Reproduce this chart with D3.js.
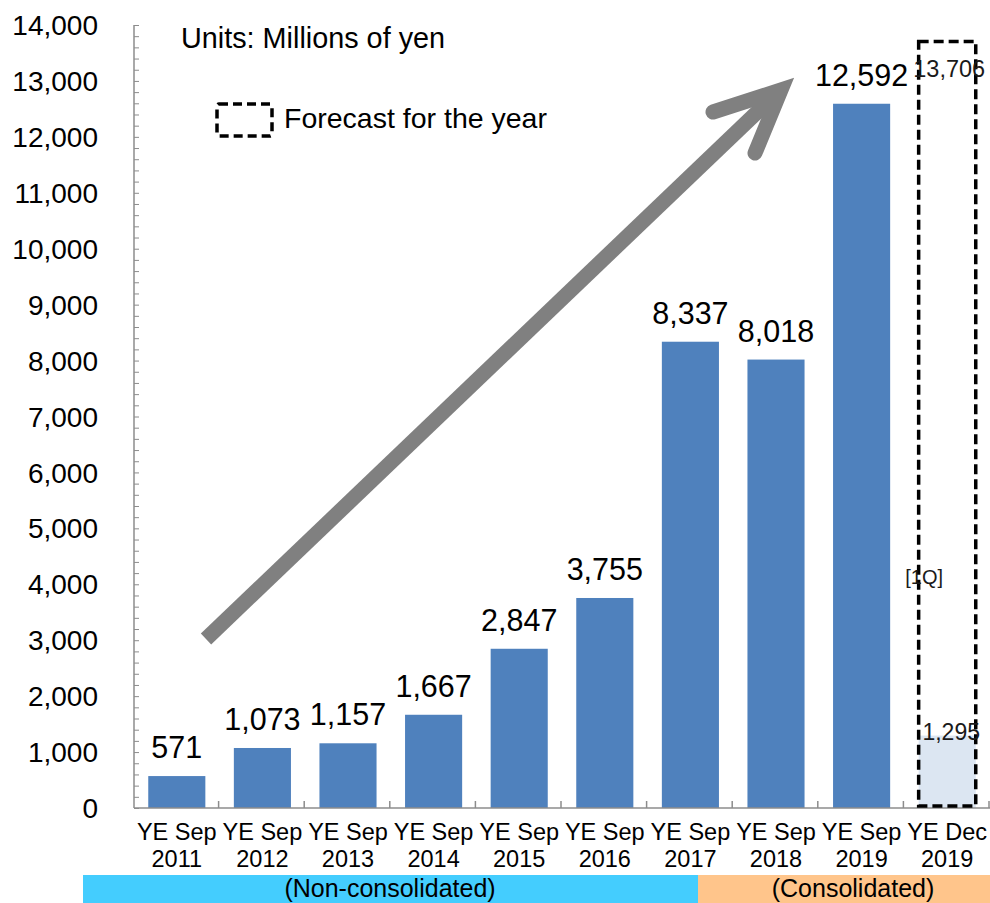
<!DOCTYPE html>
<html>
<head>
<meta charset="utf-8">
<script src="https://cdn.jsdelivr.net/npm/d3@7"></script>
<style>
  html, body { margin: 0; padding: 0; background: #fff; }
  svg { display: block; font-family: "Liberation Sans", Arial, Helvetica, sans-serif; }
</style>
</head>
<body>
<svg id="chart" width="990" height="903"></svg>
<script>
// Net sales by fiscal period (millions of yen)
const periods = ["YE Sep", "YE Sep", "YE Sep", "YE Sep", "YE Sep", "YE Sep", "YE Sep", "YE Sep", "YE Sep", "YE Dec"];
const years = ["2011", "2012", "2013", "2014", "2015", "2016", "2017", "2018", "2019", "2019"];
const sales = [571, 1073, 1157, 1667, 2847, 3755, 8337, 8018, 12592, null];
const forecastValue = 13706;   // full-year forecast for the last period
const firstQuarterValue = 1295; // first-quarter result for the last period
const yTicks = [0, 1000, 2000, 3000, 4000, 5000, 6000, 7000, 8000, 9000, 10000, 11000, 12000, 13000, 14000];

const svg = d3.select("#chart");
const plotLeft = 134, plotRight = 990, plotTop = 25, plotBottom = 808;

const idx = d3.range(periods.length);
const x = d3.scaleBand().domain(idx).range([plotLeft, plotRight]).paddingInner(0.333).paddingOuter(0.1665);
const y = d3.scaleLinear().domain([0, 14000]).range([plotBottom, plotTop]);
const step = x.step();

// Bars for actual results
svg.append("g").selectAll("rect")
  .data(idx.filter(i => sales[i] != null))
  .join("rect")
  .attr("x", i => x(i))
  .attr("width", x.bandwidth())
  .attr("y", i => y(sales[i]))
  .attr("height", i => y(0) - y(sales[i]))
  .attr("fill", "#4f81bd");

// Value labels
svg.append("g").selectAll("text")
  .data(idx.filter(i => sales[i] != null))
  .join("text")
  .attr("x", i => x(i) + x.bandwidth() / 2)
  .attr("y", i => y(sales[i]) - 18)
  .attr("text-anchor", "middle")
  .attr("font-size", 30.5)
  .attr("fill", "#000")
  .text(i => d3.format(",")(sales[i]));

// Last period: first-quarter bar inside dashed forecast outline
const last = periods.length - 1;
svg.append("rect")
  .attr("x", x(last))
  .attr("width", x.bandwidth())
  .attr("y", y(firstQuarterValue))
  .attr("height", y(0) - y(firstQuarterValue))
  .attr("fill", "#dce6f2");

// Axes
const axisColor = "#8c8c8c";
const yAxis = svg.append("g").attr("transform", `translate(${plotLeft},0)`)
  .call(d3.axisRight(y).tickValues(d3.range(0, 14001, 200)).tickSize(5).tickFormat(""));
yAxis.select(".domain").remove();
yAxis.selectAll("line").attr("stroke", axisColor);
svg.append("line").attr("x1", plotLeft).attr("x2", plotLeft).attr("y1", y(14000)).attr("y2", y(0))
  .attr("stroke", axisColor).attr("stroke-width", 1.5);

svg.append("g").selectAll("text")
  .data(yTicks)
  .join("text")
  .attr("x", 98)
  .attr("y", d => y(d))
  .attr("dy", "0.36em")
  .attr("text-anchor", "end")
  .attr("font-size", 28)
  .text(d => d3.format(",")(d));

svg.append("line").attr("x1", plotLeft).attr("x2", plotRight).attr("y1", plotBottom).attr("y2", plotBottom)
  .attr("stroke", axisColor).attr("stroke-width", 1.5);
svg.append("g").selectAll("line")
  .data(d3.range(1, periods.length + 1))
  .join("line")
  .attr("x1", i => plotLeft + i * step - 1)
  .attr("x2", i => plotLeft + i * step - 1)
  .attr("y1", plotBottom)
  .attr("y2", plotBottom - 7)
  .attr("stroke", axisColor)
  .attr("stroke-width", 1.5);

// Category labels (two lines)
const cat = svg.append("g").attr("font-size", 23.5).attr("text-anchor", "middle");
cat.selectAll("text.p").data(idx).join("text").attr("class", "p")
  .attr("x", i => x(i) + x.bandwidth() / 2).attr("y", 840).text(i => periods[i]);
cat.selectAll("text.yr").data(idx).join("text").attr("class", "yr")
  .attr("x", i => x(i) + x.bandwidth() / 2).attr("y", 867).text(i => years[i]);

// Dashed forecast outline
svg.append("rect")
  .attr("x", x(last))
  .attr("width", x.bandwidth())
  .attr("y", y(forecastValue))
  .attr("height", y(0) - y(forecastValue) - 2)
  .attr("fill", "none")
  .attr("stroke", "#000")
  .attr("stroke-width", 3.5)
  .attr("stroke-dasharray", "10,5");

const cx = x(last) + x.bandwidth() / 2;
svg.append("text").attr("x", cx + 2).attr("y", y(forecastValue) + 36)
  .attr("text-anchor", "middle").attr("font-size", 23.5).attr("fill", "#1a1a1a")
  .text(d3.format(",")(forecastValue));
svg.append("text").attr("x", cx + 4).attr("y", y(firstQuarterValue) + 4)
  .attr("text-anchor", "middle").attr("font-size", 23).attr("fill", "#1a1a1a")
  .text(d3.format(",")(firstQuarterValue));
svg.append("text").attr("x", cx - 23).attr("y", 584)
  .attr("text-anchor", "middle").attr("font-size", 20).attr("fill", "#1a1a1a")
  .text("[1Q]");

// Units note and legend
svg.append("text").attr("x", 181).attr("y", 48).attr("font-size", 28.8).text("Units: Millions of yen");
svg.append("rect").attr("x", 217).attr("y", 104).attr("width", 55).attr("height", 32).attr("rx", 2)
  .attr("fill", "none").attr("stroke", "#000").attr("stroke-width", 3.5).attr("stroke-dasharray", "9,5");
svg.append("text").attr("x", 284).attr("y", 128).attr("font-size", 28.5).text("Forecast for the year");

// Growth arrow
const arrow = svg.append("g").attr("stroke", "#808080").attr("fill", "none").attr("stroke-width", 15);
arrow.append("line").attr("x1", 206).attr("y1", 639).attr("x2", 772).attr("y2", 98);
arrow.append("path").attr("d", "M713,112 L781,90 L755,153")
  .attr("stroke-linecap", "round").attr("stroke-linejoin", "miter");

// Reporting basis bands
svg.append("rect").attr("x", 83).attr("y", 875).attr("width", 615).attr("height", 28).attr("fill", "#44cdfe");
svg.append("rect").attr("x", 698).attr("y", 875).attr("width", 292).attr("height", 28).attr("fill", "#ffc58b");
svg.append("text").attr("x", 390).attr("y", 897).attr("text-anchor", "middle").attr("font-size", 25).text("(Non-consolidated)");
svg.append("text").attr("x", 853).attr("y", 897).attr("text-anchor", "middle").attr("font-size", 25).text("(Consolidated)");
</script>
</body>
</html>
